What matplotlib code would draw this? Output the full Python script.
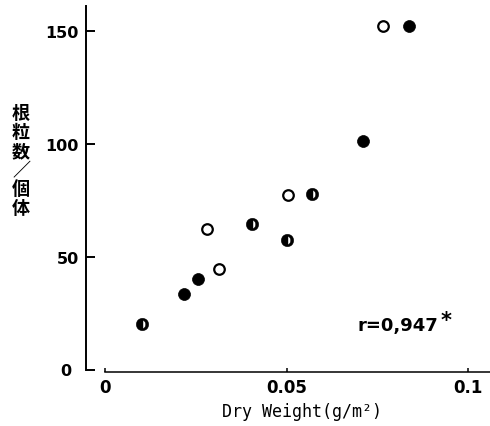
import numpy as np
import matplotlib
matplotlib.use("Agg")
import matplotlib.pyplot as plt
from matplotlib.path import Path

# ---- data ----
open_x = [0.0280, 0.0314, 0.0503, 0.0766]
open_y = [62.2, 44.8, 77.3, 152.2]
filled_x = [0.0218, 0.0255, 0.0709, 0.0836]
filled_y = [33.8, 40.3, 101.2, 152.2]
half_x = [0.0101, 0.0405, 0.0500, 0.0570]
half_y = [20.2, 64.7, 57.7, 77.7]

x_ticks = [0, 0.05, 0.1]
x_ticklabels = ["0", "0.05", "0.1"]
y_ticks = [0, 50, 100, 150]
y_ticklabels = ["0", "50", "100", "150"]
y_label_chars = ["根", "粒", "数", "／", "個", "体"]
x_label = "Dry Weight(g/m²)"
r_text = "r=0,947"

# ---- half-filled marker: black disc with a white half-ellipse hole ----
outer = Path.unit_circle()
t = np.linspace(np.pi / 2, -np.pi / 2, 30)  # clockwise -> hole
hx = 0.08 + 0.42 * np.cos(t)
hy = 0.62 * np.sin(t)
hole_verts = np.column_stack([hx, hy])
hole_verts = np.vstack([hole_verts, hole_verts[:1]])
hole_codes = [Path.MOVETO] + [Path.LINETO] * (len(hole_verts) - 2) + [Path.CLOSEPOLY]
hole = Path(hole_verts, hole_codes)
half_marker = Path.make_compound_path(outer, hole)

fig = plt.figure(figsize=(4.90, 4.27), dpi=100)
ax = fig.add_axes([86 / 490, 54 / 427, 1 - 86 / 490, (373.3 - 7) / 427])

ax.set_xlim(-0.00523, 0.106)
ax.set_ylim(-0.9, 161.2)

ax.plot(filled_x, filled_y, linestyle="none", marker="o", markersize=8.6,
        markerfacecolor="black", markeredgecolor="black", markeredgewidth=0.5)
ax.plot(open_x, open_y, linestyle="none", marker="o", markersize=7.6,
        markerfacecolor="white", markeredgecolor="black", markeredgewidth=1.6)
ax.plot(half_x, half_y, linestyle="none", marker=half_marker, markersize=9.0,
        markerfacecolor="black", markeredgecolor="black", markeredgewidth=0.3)

# spines
for s in ["top", "right"]:
    ax.spines[s].set_visible(False)
ax.spines["left"].set_linewidth(1.4)
ax.spines["left"].set_bounds(0, 161.2)
ax.spines["bottom"].set_linewidth(1.1)
ax.spines["bottom"].set_bounds(0, 0.106)

ax.set_xticks(x_ticks)
ax.set_xticklabels(x_ticklabels)
ax.set_yticks(y_ticks)
# the "0" label on the y axis sits further left; drawn separately below
ax.set_yticklabels([lab if lab != "0" else "" for lab in y_ticklabels])
ax.tick_params(axis="y", direction="in", length=6.5, width=1.4, pad=5,
               labelsize=11.5)
ax.tick_params(axis="x", direction="in", length=3, width=1.1, pad=4,
               labelsize=12)
for lab in ax.get_xticklabels() + ax.get_yticklabels():
    lab.set_fontweight("bold")
    lab.set_family("DejaVu Sans")

fig.text(71 / 490, 1 - 371.5 / 427, y_ticklabels[0], ha="right", va="center",
         fontsize=11.5, fontweight="bold", family="DejaVu Sans")

# x label
fig.text(302 / 490, 1 - 412 / 427, x_label, ha="center", va="center",
         fontsize=12, family="DejaVu Sans Mono")

# y label: stacked vertical CJK characters
fig.text(21 / 490, 1 - 161 / 427, "\n".join(y_label_chars), ha="center",
         va="center", fontsize=13, fontweight="bold", linespacing=1.0,
         family=["Noto Sans CJK JP", "DejaVu Sans"])

# correlation annotation
ax.text(0.0694, 17.5, r_text, ha="left", va="baseline", fontsize=13,
        fontweight="bold", family="DejaVu Sans")
ax.text(0.0925, 26.5, "*", ha="left", va="top", fontsize=15,
        fontweight="bold", family="DejaVu Sans")

fig.savefig("out.png", dpi=100)
